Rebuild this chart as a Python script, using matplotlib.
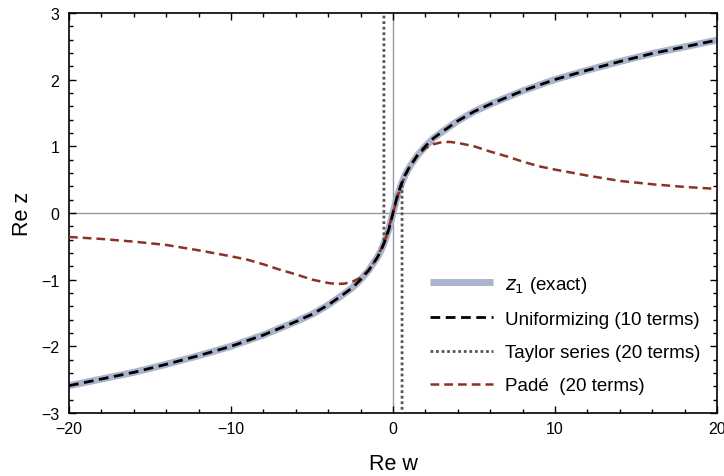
import matplotlib
matplotlib.use("Agg")
import matplotlib.pyplot as plt
from matplotlib.ticker import MultipleLocator

plt.rcParams['font.family'] = ['Liberation Sans', 'DejaVu Sans']

# exact root z1, antisymmetric in w
w_exact = [-20, -18, -16, -14, -12, -10, -8, -6, -5, -4, -3, -2.5, -2, -1.5, -1,
           -0.75, -0.5, -0.25, 0, 0.25, 0.5, 0.75, 1, 1.5, 2, 2.5, 3, 4, 5, 6,
           8, 10, 12, 14, 16, 18, 20]
z_exact = [-2.59, -2.49, -2.39, -2.27, -2.14, -2.0, -1.83, -1.63, -1.52, -1.38,
           -1.21, -1.12, -1.0, -0.86, -0.68, -0.57, -0.42, -0.24, 0.0, 0.24, 0.42,
           0.57, 0.68, 0.86, 1.0, 1.12, 1.21, 1.38, 1.52, 1.63, 1.83, 2.0, 2.14,
           2.27, 2.39, 2.49, 2.59]

# uniformizing approximation sits on top of the exact curve
w_unif = w_exact
z_unif = z_exact

# taylor series blows up just outside |w| ~ 0.56
w_taylor = [-0.56, -0.56, -0.5, -0.25, 0, 0.25, 0.5, 0.56, 0.56]
z_taylor = [3.5, -0.46, -0.42, -0.24, 0.0, 0.24, 0.42, 0.46, -3.5]

# pade approximant
w_pade = [-20, -18, -16, -14, -12, -10, -9, -8, -7, -6, -5, -4, -3.5, -3, -2.5,
          -2, -1.5, -1, -0.5, 0, 0.5, 1, 1.5, 2, 2.5, 3, 3.5, 4, 5, 6, 7, 8, 9,
          10, 12, 14, 16, 18, 20]
z_pade = [-0.36, -0.39, -0.43, -0.48, -0.56, -0.65, -0.70, -0.77, -0.85, -0.92,
          -1.0, -1.05, -1.065, -1.06, -1.03, -0.97, -0.86, -0.68, -0.42, 0.0,
          0.42, 0.68, 0.86, 0.97, 1.03, 1.06, 1.065, 1.05, 1.0, 0.92, 0.85, 0.77,
          0.70, 0.65, 0.56, 0.48, 0.43, 0.39, 0.36]

fig = plt.figure(figsize=(7.24, 4.77), dpi=100)
ax = fig.add_axes([0.0953, 0.132, 0.895, 0.839])

ax.axhline(0, color='#999999', lw=1, zorder=1)
ax.axvline(0, color='#999999', lw=1, zorder=1)

ax.plot(w_exact, z_exact, color='#aab4cc', lw=5, label='$z_1$ (exact)',
        solid_capstyle='butt', zorder=2)
ax.plot(w_unif, z_unif, color='black', lw=2, ls=(0, (3.5, 2)),
        label='Uniformizing (10 terms)', zorder=4)
ax.plot(w_taylor, z_taylor, color='#555555', lw=2, ls=(0, (1, 1)),
        label='Taylor series (20 terms)', zorder=3)
ax.plot(w_pade, z_pade, color='#8b3226', lw=1.8, ls=(0, (3.5, 2)),
        label='Padé  (20 terms)', zorder=3)

ax.set_xlim(-20, 20)
ax.set_ylim(-3, 3)
ax.xaxis.set_major_locator(MultipleLocator(10))
ax.xaxis.set_minor_locator(MultipleLocator(2))
ax.yaxis.set_major_locator(MultipleLocator(1))
ax.yaxis.set_minor_locator(MultipleLocator(0.2))
ax.tick_params(which='both', direction='in', top=True, right=True,
               labelsize=11.5, width=1)
ax.tick_params(which='major', length=5)
ax.tick_params(which='minor', length=3)
ax.tick_params(axis='x', pad=6)
ax.tick_params(axis='y', pad=7)
for s in ax.spines.values():
    s.set_linewidth(1.2)

ax.set_xlabel('Re w', fontsize=15.5, labelpad=12)
ax.set_ylabel('Re z', fontsize=15.5, labelpad=6)

ax.legend(loc='lower right', bbox_to_anchor=(1.0, 0.005), frameon=False,
          fontsize=13.5, handlelength=3.4, labelspacing=0.85, handletextpad=0.6)

fig.savefig('out.png', dpi=100)
